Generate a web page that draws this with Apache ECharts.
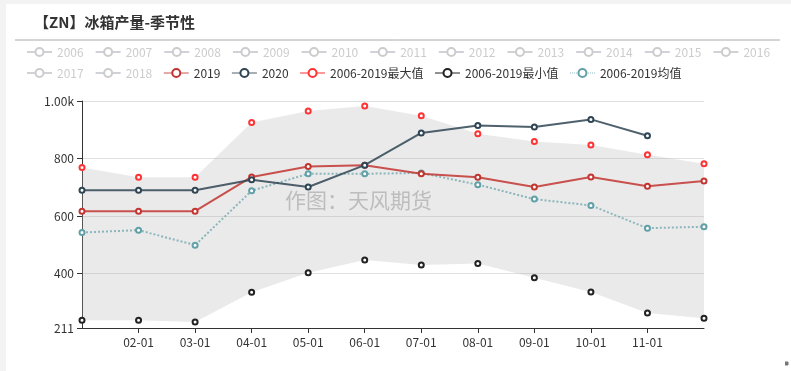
<!DOCTYPE html>
<html>
<head>
<meta charset="utf-8">
<script src="https://cdn.jsdelivr.net/npm/echarts@6/dist/echarts.min.js"></script>
<style>
html,body{margin:0;padding:0;background:#f3f3f3;width:791px;height:371px;overflow:hidden;}
#chart{position:absolute;left:6px;top:4px;width:785px;height:367px;background:#fff;}
</style>
</head>
<body>
<div id="chart"></div>
<script>
var categories = ['01-01','02-01','03-01','04-01','05-01','06-01','07-01','08-01','09-01','10-01','11-01','12-01'];
var hiddenYears = ['2006','2007','2008','2009','2010','2011','2012','2013','2014','2015','2016','2017','2018'];
var s2019 = [617,617,617,736,772,777,747,735,701,736,704,722];
var s2020 = [690,690,690,726,701,777,889,915,910,936,879];
var maxV  = [769,735,735,925,965,983,949,886,859,847,813,782];
var minV  = [238,238,232,335,403,447,430,435,386,336,263,245];
var meanV = [543,551,499,688,747,747,750,709,659,637,558,563];

var FONT = 'Noto Sans CJK SC';
var chart = echarts.init(document.getElementById('chart'), null, {renderer:'canvas'});

var bandDiff = maxV.map(function(v,i){return v - minV[i];});
var series = [];
hiddenYears.forEach(function(y){
  series.push({name:y,type:'line',data:[],symbol:'emptyCircle',lineStyle:{width:1},itemStyle:{borderWidth:1}});
});
series.push({name:'bandBase',type:'line',stack:'band',data:minV,symbol:'none',
  lineStyle:{opacity:0},silent:true,z:1});
series.push({name:'band',type:'line',stack:'band',data:bandDiff,symbol:'none',
  lineStyle:{opacity:0},areaStyle:{color:'rgba(180,180,180,0.4)'},silent:true,z:1});
series.push({name:'2019',type:'line',data:s2019,symbol:'emptyCircle',symbolSize:5,
  itemStyle:{color:'#c23531',borderWidth:1},lineStyle:{width:2,color:'#c23531',opacity:0.85},z:5});
series.push({name:'2020',type:'line',data:s2020,symbol:'emptyCircle',symbolSize:5,
  itemStyle:{color:'#2f4554',borderWidth:1},lineStyle:{width:2,color:'#2f4554',opacity:0.85},z:6});
series.push({name:'2006-2019最大值',type:'line',data:maxV,symbol:'emptyCircle',symbolSize:5,
  itemStyle:{color:'#ff3333',borderWidth:1.2},lineStyle:{width:1,color:'#ff3333',opacity:0},z:4});
series.push({name:'2006-2019最小值',type:'line',data:minV,symbol:'emptyCircle',symbolSize:5,
  itemStyle:{color:'#222',borderWidth:1.2},lineStyle:{width:1,color:'#222',opacity:0},z:4});
series.push({name:'2006-2019均值',type:'line',data:meanV,symbol:'emptyCircle',symbolSize:5,
  itemStyle:{color:'#61a0a8',borderWidth:1},lineStyle:{width:2,color:'#61a0a8',type:'dotted',opacity:0.7},z:4});

var row1 = hiddenYears.slice(0,11);
var row2 = hiddenYears.slice(11).concat(['2019','2020',
  {name:'2006-2019最大值',lineStyle:{opacity:1}},
  {name:'2006-2019最小值',lineStyle:{opacity:1}},
  '2006-2019均值']);
var selected = {};
hiddenYears.forEach(function(y){selected[y]=false;});

var legendCommon = {
  type:'plain', left:15, itemWidth:25, itemHeight:10, itemGap:11,
  inactiveColor:'#ccc', inactiveBorderWidth:1, selected:selected,
  lineStyle:{width:1},
  itemStyle:{borderWidth:1},
  textStyle:{fontSize:12,color:'#333',fontFamily:FONT}
};

var option = {
  animation:false,
  textStyle:{fontFamily:FONT},
  title:{text:'【ZN】冰箱产量-季节性',left:28,top:11,padding:0,
    textStyle:{fontSize:15,fontWeight:'bold',color:'#333',fontFamily:FONT}},
  legend:[
    Object.assign({},legendCommon,{top:37,data:row1}),
    Object.assign({},legendCommon,{top:58,data:row2})
  ],
  grid:{left:76,right:87,top:97,bottom:43,containLabel:false},
  xAxis:{type:'category',data:categories,boundaryGap:false,
    axisLine:{lineStyle:{color:'#333'}},
    axisTick:{interval:function(i){return i>0 && i<categories.length-1;},lineStyle:{color:'#333'}},
    axisLabel:{interval:function(i){return i>0 && i<categories.length-1;},color:'#333',fontSize:12,fontFamily:FONT},
    splitLine:{show:false}},
  yAxis:{type:'value',min:211,max:1000,
    axisLine:{show:true,lineStyle:{color:'#333'}},
    axisTick:{show:true,lineStyle:{color:'#333'}},
    axisLabel:{color:'#333',fontSize:12,fontFamily:FONT,
      formatter:function(v){return v>=1000?(v/1000).toFixed(2)+'k':String(v);}},
    splitLine:{lineStyle:{color:'#e0e0e0'}}},
  graphic:[
    {type:'line',shape:{x1:9,y1:36,x2:774,y2:36},style:{stroke:'#aaa',lineWidth:1},silent:true},
    {type:'text',left:279,top:186,z:100,silent:true,
      style:{text:'作图：天风期货',fontSize:21,fill:'rgba(120,120,120,0.4)',fontFamily:FONT}},
    {type:'polyline',shape:{points:[[779,358],[782,358],[782,361],[779,361]]},style:{fill:'#777',stroke:'#777'},silent:true}
  ],
  series:series
};
chart.setOption(option);
</script>
</body>
</html>
